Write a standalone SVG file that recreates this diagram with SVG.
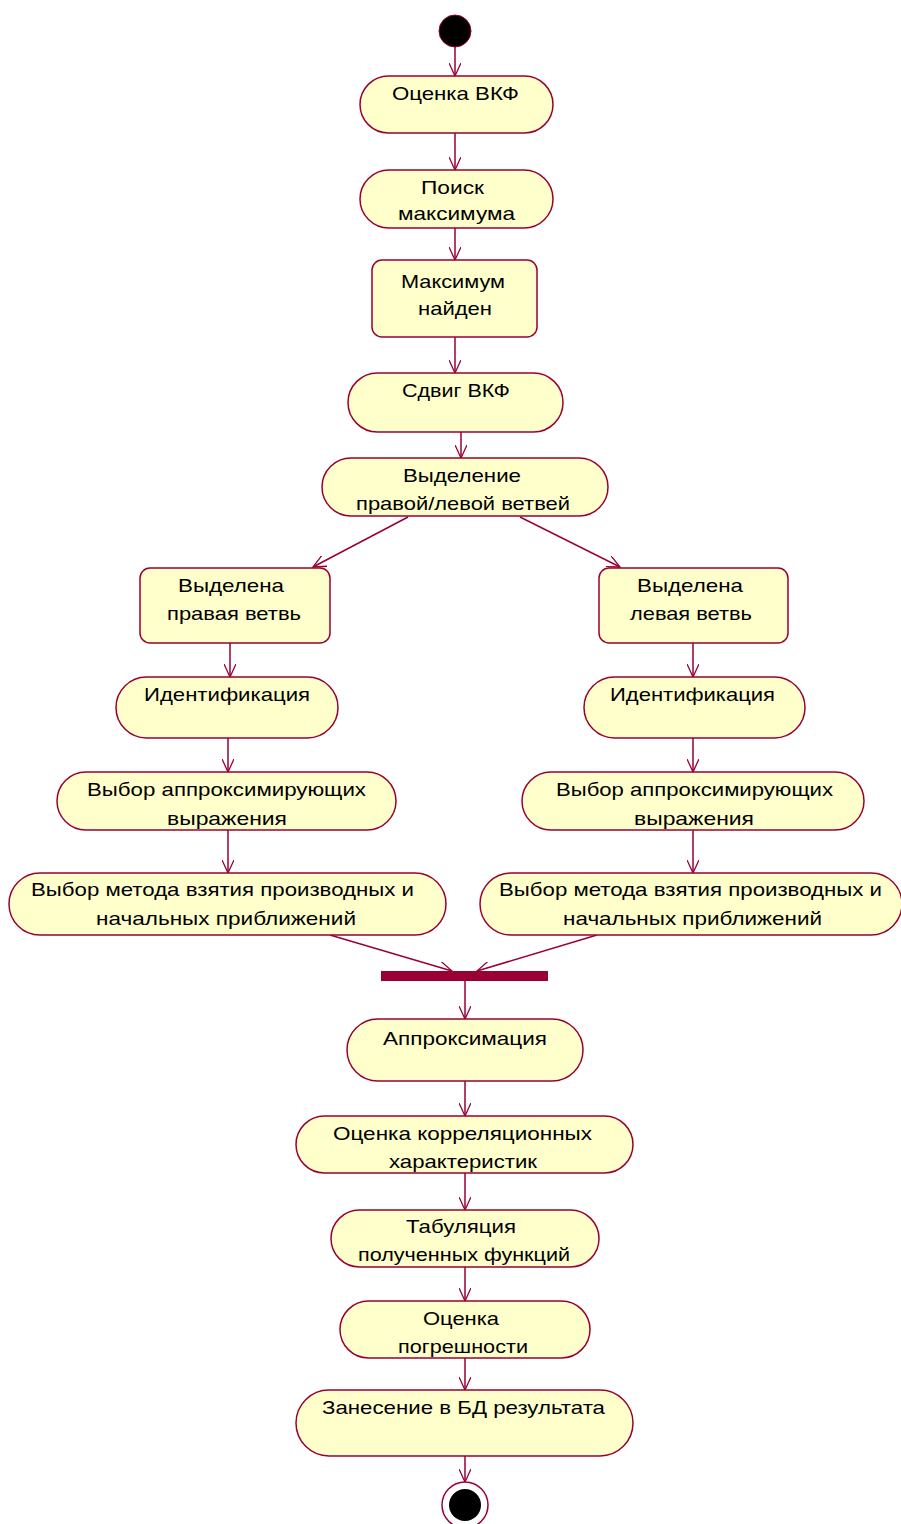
<svg xmlns="http://www.w3.org/2000/svg" width="901" height="1524" viewBox="0 0 901 1524">
  <style>
    .act { fill: #FFFFCC; stroke: #990033; stroke-width: 1.5; }
    .lbl { font-family: "Liberation Sans", Arial, sans-serif; font-size: 19px; fill: #000; text-anchor: middle; }
    .edge { fill: none; stroke: #990033; stroke-width: 1.5; marker-end: url(#open); }
  </style>
  <defs>
    <marker id="open" viewBox="0 0 14 12" refX="13" refY="6" markerWidth="14" markerHeight="12" markerUnits="userSpaceOnUse" orient="auto">
      <path d="M0,0 L13,6 L0,12" fill="none" stroke="#990033" stroke-width="1.3"/>
    </marker>
  </defs>
  <rect width="901" height="1524" fill="#FFFFFF"/>

  <g id="connectors">
    <line class="edge" x1="455" y1="47" x2="455" y2="76"/>
    <line class="edge" x1="455" y1="133" x2="455" y2="170"/>
    <line class="edge" x1="455" y1="228" x2="455" y2="260"/>
    <line class="edge" x1="455" y1="337" x2="455" y2="373"/>
    <line class="edge" x1="461" y1="432" x2="461" y2="458"/>
    <line class="edge" x1="408" y1="517" x2="313" y2="567"/>
    <line class="edge" x1="520" y1="517" x2="620" y2="567"/>
    <line class="edge" x1="230" y1="643" x2="230" y2="677"/>
    <line class="edge" x1="228" y1="738" x2="228" y2="772"/>
    <line class="edge" x1="228" y1="830" x2="228" y2="873"/>
    <line class="edge" x1="693" y1="643" x2="693" y2="677"/>
    <line class="edge" x1="693" y1="738" x2="693" y2="772"/>
    <line class="edge" x1="693" y1="830" x2="693" y2="873"/>
    <line class="edge" x1="330" y1="935" x2="452" y2="971"/>
    <line class="edge" x1="597" y1="935" x2="477" y2="971"/>
    <line class="edge" x1="465" y1="981" x2="465" y2="1019"/>
    <line class="edge" x1="465" y1="1081" x2="465" y2="1116"/>
    <line class="edge" x1="465" y1="1173" x2="465" y2="1210"/>
    <line class="edge" x1="465" y1="1267" x2="465" y2="1301"/>
    <line class="edge" x1="465" y1="1358" x2="465" y2="1390"/>
    <line class="edge" x1="465" y1="1456" x2="465" y2="1482"/>
  </g>

  <g id="start">
    <circle cx="455" cy="31" r="16" fill="#000" stroke="#990033" stroke-width="1"/>
  </g>

  <g id="ocenka-vkf">
    <rect class="act" x="360" y="76" width="193" height="57" rx="28.5"/>
    <text class="lbl" x="455.5" y="100" textLength="127" lengthAdjust="spacingAndGlyphs">Оценка ВКФ</text>
  </g>

  <g id="poisk-max">
    <rect class="act" x="360" y="170" width="193" height="58" rx="29"/>
    <text class="lbl" x="452.5" y="194" textLength="63" lengthAdjust="spacingAndGlyphs">Поиск</text>
    <text class="lbl" x="456.5" y="220" textLength="117" lengthAdjust="spacingAndGlyphs">максимума</text>
  </g>

  <g id="max-found">
    <rect class="act" x="372" y="260" width="165" height="77" rx="10"/>
    <text class="lbl" x="453" y="288" textLength="104" lengthAdjust="spacingAndGlyphs">Максимум</text>
    <text class="lbl" x="455" y="315" textLength="74" lengthAdjust="spacingAndGlyphs">найден</text>
  </g>

  <g id="sdvig-vkf">
    <rect class="act" x="348" y="373" width="215" height="59" rx="29.5"/>
    <text class="lbl" x="456" y="397" textLength="108" lengthAdjust="spacingAndGlyphs">Сдвиг ВКФ</text>
  </g>

  <g id="vydelenie">
    <rect class="act" x="322" y="458" width="286" height="58" rx="29"/>
    <text class="lbl" x="462" y="482" textLength="118" lengthAdjust="spacingAndGlyphs">Выделение</text>
    <text class="lbl" x="463" y="510" textLength="214" lengthAdjust="spacingAndGlyphs">правой/левой ветвей</text>
  </g>

  <g id="right-branch">
    <rect class="act" x="140" y="568" width="190" height="75" rx="10"/>
    <text class="lbl" x="231" y="592" textLength="106" lengthAdjust="spacingAndGlyphs">Выделена</text>
    <text class="lbl" x="234" y="620" textLength="134" lengthAdjust="spacingAndGlyphs">правая ветвь</text>
  </g>

  <g id="ident-left">
    <rect class="act" x="116" y="677" width="222" height="61" rx="30.5"/>
    <text class="lbl" x="227" y="701" textLength="166" lengthAdjust="spacingAndGlyphs">Идентификация</text>
  </g>

  <g id="approx-expr-left">
    <rect class="act" x="57" y="772" width="339" height="58" rx="29"/>
    <text class="lbl" x="226.5" y="796" textLength="279" lengthAdjust="spacingAndGlyphs">Выбор аппроксимирующих</text>
    <text class="lbl" x="227" y="825" textLength="120" lengthAdjust="spacingAndGlyphs">выражения</text>
  </g>

  <g id="method-left">
    <rect class="act" x="9" y="873" width="437" height="62" rx="31"/>
    <text class="lbl" x="222.5" y="896" textLength="383" lengthAdjust="spacingAndGlyphs">Выбор метода взятия производных и</text>
    <text class="lbl" x="226" y="925" textLength="260" lengthAdjust="spacingAndGlyphs">начальных приближений</text>
  </g>

  <g id="left-branch">
    <rect class="act" x="599" y="568" width="189" height="75" rx="10"/>
    <text class="lbl" x="690" y="592" textLength="106" lengthAdjust="spacingAndGlyphs">Выделена</text>
    <text class="lbl" x="691" y="620" textLength="122" lengthAdjust="spacingAndGlyphs">левая ветвь</text>
  </g>

  <g id="ident-right">
    <rect class="act" x="584" y="677" width="221" height="61" rx="30.5"/>
    <text class="lbl" x="692.5" y="701" textLength="165" lengthAdjust="spacingAndGlyphs">Идентификация</text>
  </g>

  <g id="approx-expr-right">
    <rect class="act" x="522" y="772" width="342" height="58" rx="29"/>
    <text class="lbl" x="694.5" y="796" textLength="277" lengthAdjust="spacingAndGlyphs">Выбор аппроксимирующих</text>
    <text class="lbl" x="694" y="825" textLength="120" lengthAdjust="spacingAndGlyphs">выражения</text>
  </g>

  <g id="method-right">
    <rect class="act" x="480" y="873" width="422" height="62" rx="31"/>
    <text class="lbl" x="690.5" y="896" textLength="383" lengthAdjust="spacingAndGlyphs">Выбор метода взятия производных и</text>
    <text class="lbl" x="692.5" y="925" textLength="259" lengthAdjust="spacingAndGlyphs">начальных приближений</text>
  </g>

  <g id="join">
    <rect x="381" y="971" width="167" height="10" fill="#990033"/>
  </g>

  <g id="approximation">
    <rect class="act" x="347" y="1019" width="236" height="62" rx="31"/>
    <text class="lbl" x="465" y="1045" textLength="164" lengthAdjust="spacingAndGlyphs">Аппроксимация</text>
  </g>

  <g id="corr-eval">
    <rect class="act" x="296" y="1116" width="337" height="57" rx="28.5"/>
    <text class="lbl" x="462.5" y="1140" textLength="259" lengthAdjust="spacingAndGlyphs">Оценка корреляционных</text>
    <text class="lbl" x="463" y="1168" textLength="148" lengthAdjust="spacingAndGlyphs">характеристик</text>
  </g>

  <g id="tabulation">
    <rect class="act" x="331" y="1210" width="268" height="57" rx="28.5"/>
    <text class="lbl" x="461" y="1233" textLength="110" lengthAdjust="spacingAndGlyphs">Табуляция</text>
    <text class="lbl" x="464" y="1261" textLength="212" lengthAdjust="spacingAndGlyphs">полученных функций</text>
  </g>

  <g id="error-eval">
    <rect class="act" x="340" y="1301" width="250" height="57" rx="28.5"/>
    <text class="lbl" x="461" y="1325" textLength="76" lengthAdjust="spacingAndGlyphs">Оценка</text>
    <text class="lbl" x="463" y="1353" textLength="130" lengthAdjust="spacingAndGlyphs">погрешности</text>
  </g>

  <g id="store-result">
    <rect class="act" x="296" y="1390" width="337" height="66" rx="33"/>
    <text class="lbl" x="463.5" y="1414" textLength="283" lengthAdjust="spacingAndGlyphs">Занесение в БД результата</text>
  </g>

  <g id="final">
    <circle cx="465" cy="1505" r="23" fill="#FFFFFF" stroke="#990033" stroke-width="1.5"/>
    <circle cx="465" cy="1505" r="16" fill="#000"/>
  </g>
</svg>
